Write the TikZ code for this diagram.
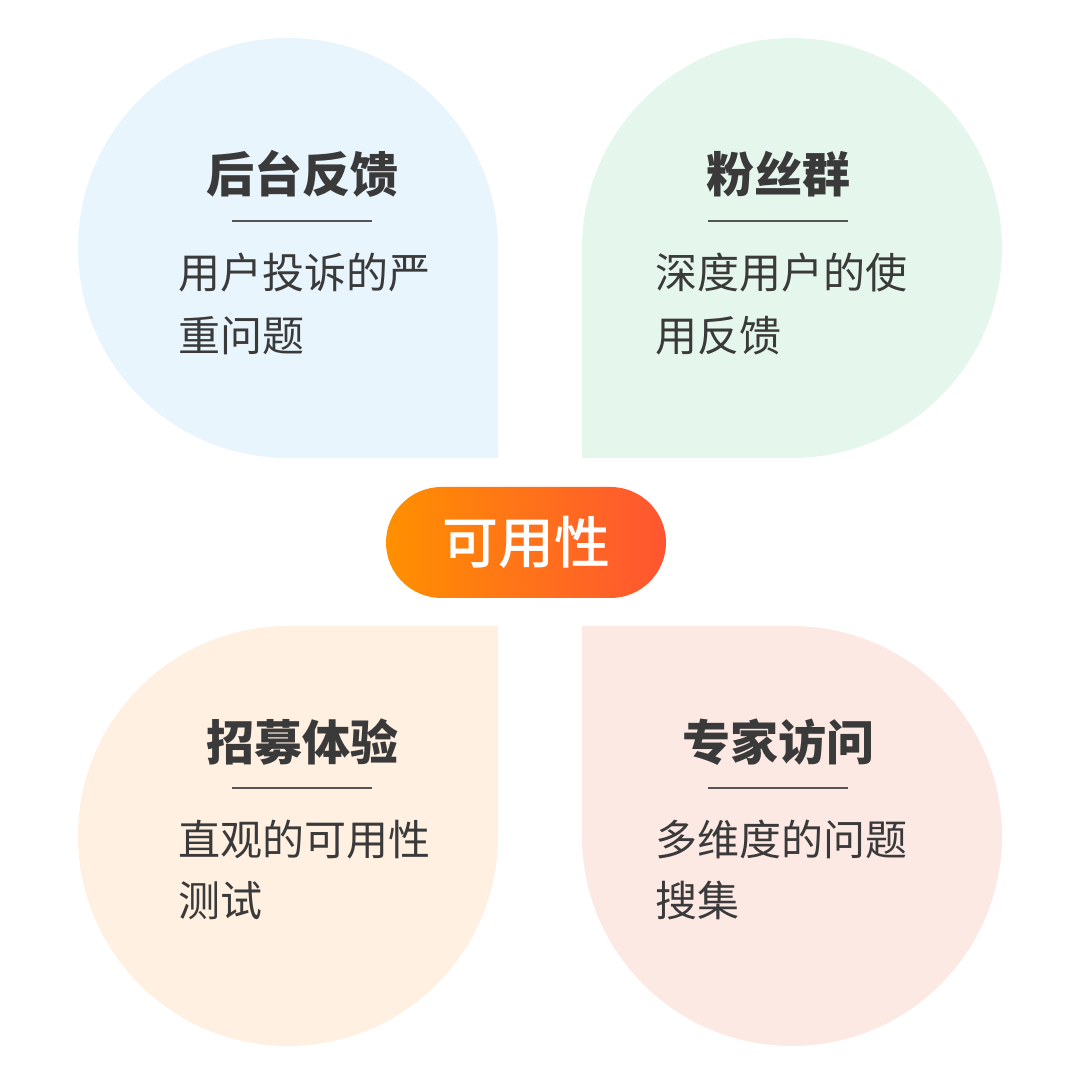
\documentclass[tikz,border=0pt]{standalone}
\usepackage{fontspec}
\setmainfont{Noto Sans CJK SC}
\newfontfamily\cjkmed{Noto Sans CJK SC Medium}
\definecolor{pblue}{HTML}{E8F5FC}
\definecolor{pgreen}{HTML}{E5F7EC}
\definecolor{porange}{HTML}{FFF0E1}
\definecolor{ppink}{HTML}{FDE9E4}
\definecolor{txt}{HTML}{3A3A3A}
\definecolor{rule}{HTML}{555555}
\definecolor{pillL}{HTML}{FF9000}
\definecolor{pillR}{HTML}{FF5532}
\begin{document}
\begin{tikzpicture}[x=1pt,y=1pt,
  title/.style={anchor=base,inner sep=0pt,text=txt,font=\fontsize{48}{48}\selectfont\bfseries},
  body/.style={anchor=base west,inner sep=0pt,text=txt,font=\fontsize{42}{42}\selectfont},
  divider/.style={draw=rule,line width=2pt},
  pilltext/.style={anchor=base,inner sep=0pt,text=white,font=\fontsize{56}{56}\selectfont\cjkmed}]
\useasboundingbox (0,0) rectangle (1080,1085);
% petals
\fill[pblue] (498,627) -- (288,627) arc[start angle=270,end angle=0,radius=210] -- cycle;
\fill[pgreen] (582,627) -- (582,837) arc[start angle=180,end angle=-90,radius=210] -- cycle;
\fill[porange] (498,459) -- (498,249) arc[start angle=0,end angle=-270,radius=210] -- cycle;
\fill[ppink] (582,459) -- (792,459) arc[start angle=90,end angle=-180,radius=210] -- cycle;
% top-left
\node[title] (tlt) at (302,892) {后台反馈};
\draw[divider] (232,864) -- (372,864);
\node[body] (tlb1) at (178,796.5) {用户投诉的严};
\node[body] (tlb2) at (178,733) {重问题};
% top-right
\node[title] (trt) at (778,892) {粉丝群};
\draw[divider] (708,864) -- (848,864);
\node[body] (trb1) at (655,796.5) {深度用户的使};
\node[body] (trb2) at (655,733) {用反馈};
% bottom-left
\node[title] (blt) at (302,324.5) {招募体验};
\draw[divider] (232,297) -- (372,297);
\node[body] (blb1) at (178,229) {直观的可用性};
\node[body] (blb2) at (178,168) {测试};
% bottom-right
\node[title] (brt) at (778,324.5) {专家访问};
\draw[divider] (708,297) -- (848,297);
\node[body] (brb1) at (655,229) {多维度的问题};
\node[body] (brb2) at (655,168) {搜集};
% center pill
\shade[left color=pillL,right color=pillR,rounded corners=55.5pt] (386,487) rectangle (666,598);
\node[pilltext] (core) at (526,521) {可用性};
\end{tikzpicture}
\end{document}
